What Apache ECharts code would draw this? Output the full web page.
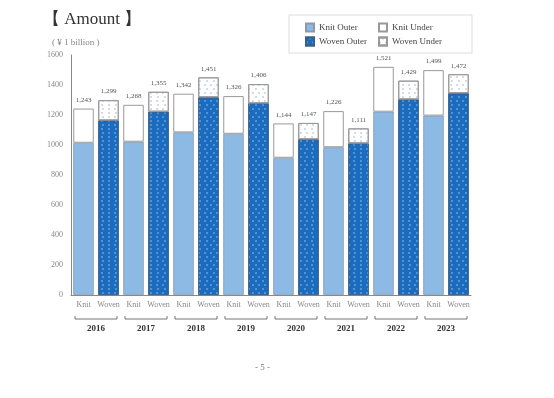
<!DOCTYPE html>
<html>
<head>
<meta charset="utf-8">
<script src="https://cdn.jsdelivr.net/npm/echarts@6/dist/echarts.min.js"></script>
<style>
  html, body { margin: 0; padding: 0; background: #fff; }
  #chart { width: 554px; height: 398px; }
</style>
</head>
<body>
<div id="chart"></div>
<script>
// values (¥ 1 billion)
var years = ['2016', '2017', '2018', '2019', '2020', '2021', '2022', '2023'];
var kinds = ['Knit', 'Woven'];
var knitOuter  = [1015, 1022, 1084, 1075,  915,  985, 1222, 1196];
var knitTotal  = [1243, 1268, 1342, 1326, 1144, 1226, 1521, 1499];
var wovenOuter = [1164, 1222, 1318, 1278, 1038, 1011, 1304, 1345];
var wovenTotal = [1299, 1355, 1451, 1406, 1147, 1111, 1429, 1472];
var yTicks = [0, 200, 400, 600, 800, 1000, 1200, 1400, 1600];

var serif = '"Liberation Serif", "DejaVu Serif", serif';

// 16 bars: Knit, Woven for every year
var cats = [];
years.forEach(function (y) { kinds.forEach(function (k) { cats.push(k); }); });

function spread(arr, slot) {
	var out = [];
	arr.forEach(function (v) {
		out.push(slot === 0 ? v : null);
		out.push(slot === 1 ? v : null);
	});
	return out;
}
function diff(tot, part) {
	return tot.map(function (v, i) { return v - part[i]; });
}
var totals = [];
knitTotal.forEach(function (v, i) { totals.push(v); totals.push(wovenTotal[i]); });

var dots = function (c) {
	return { symbol: 'circle', symbolSize: 1, color: c,
	         dashArrayX: [[1.2, 3.3], [0, 2.2, 1.2, 1.1]], dashArrayY: [1.2, 1.8] };
};

var totalLabel = {
	show: true,
	position: 'top',
	distance: 5,
	fontFamily: serif,
	fontSize: 7,
	color: '#555',
	formatter: function (p) {
		return totals[p.dataIndex].toLocaleString('en-US');
	}
};

var myChart = echarts.init(document.getElementById('chart'));

var option = {
	backgroundColor: '#fff',
	animation: false,
	title: [
		{ text: '【 Amount 】', left: 38, top: 6,
		  textStyle: { fontFamily: serif, fontSize: 17, fontWeight: 'normal', color: '#333' } },
		{ text: '( ¥ 1 billion )', left: 47, top: 33,
		  textStyle: { fontFamily: serif, fontSize: 9, fontWeight: 'normal', color: '#888' } },
		{ text: '- 5 -', left: 250, top: 358,
		  textStyle: { fontFamily: serif, fontSize: 9, fontWeight: 'normal', color: '#777' } }
	],
	legend: {
		data: ['Knit Outer', 'Knit Under', 'Woven Outer', 'Woven Under'],
		left: 289, top: 15, width: 150,
		padding: [7, 24, 6, 16],
		itemGap: 3,
		itemWidth: 8, itemHeight: 8,
		icon: 'rect',
		borderColor: '#ddd', borderWidth: 1,
		textStyle: { fontFamily: serif, fontSize: 9, color: '#444', width: 56, lineHeight: 11 }
	},
	grid: { left: 71, right: 83, top: 55, bottom: 103 },
	xAxis: [
		{
			type: 'category', data: cats,
			axisLine: { lineStyle: { color: '#888' } },
			axisTick: { show: false },
			axisLabel: { fontFamily: serif, fontSize: 8, color: '#888', margin: 6, interval: 0 }
		},
		{
			type: 'category', data: years, position: 'bottom',
			axisLine: { show: false }, axisTick: { show: false },
			axisLabel: { fontFamily: serif, fontSize: 9, fontWeight: 'bold', color: '#333', margin: 29 }
		}
	],
	yAxis: {
		type: 'value', min: 0, max: 1600, interval: 200,
		axisLine: { show: true, lineStyle: { color: '#888' } },
		axisTick: { show: false },
		splitLine: { show: false },
		axisLabel: {
			fontFamily: serif, fontSize: 8, color: '#888', margin: 8,
			formatter: function (v) { return yTicks.indexOf(v) >= 0 ? String(v) : ''; }
		}
	},
	series: [
		{
			name: 'Knit Outer', type: 'bar', stack: 'a', barWidth: '82%',
			data: spread(knitOuter, 0),
			itemStyle: { color: '#8dbae4', borderColor: '#8a9aaa', borderWidth: 0.8 }
		},
		{
			name: 'Woven Outer', type: 'bar', stack: 'a',
			data: spread(wovenOuter, 1),
			itemStyle: { color: '#1a6cc0', borderColor: '#3d5f85', borderWidth: 0.8,
			             decal: dots('rgba(255,255,255,0.35)') }
		},
		{
			name: 'Knit Under', type: 'bar', stack: 'a',
			data: spread(diff(knitTotal, knitOuter), 0),
			itemStyle: { color: '#fff', borderColor: '#999', borderWidth: 1 },
			label: totalLabel
		},
		{
			name: 'Woven Under', type: 'bar', stack: 'a',
			data: spread(diff(wovenTotal, wovenOuter), 1),
			itemStyle: { color: '#fff', borderColor: '#999', borderWidth: 1,
			             decal: dots('rgba(140,165,200,0.5)') },
			label: totalLabel
		},
		{
			// year brackets under each Knit / Woven pair
			type: 'custom', xAxisIndex: 1, silent: true, clip: false,
			data: years.map(function (y, i) { return [i]; }),
			encode: { x: 0 },
			renderItem: function (params, api) {
				var p = api.coord([api.value(0), 0]);
				var half = api.size([1, 0])[0] * 0.42;
				var y = p[1] + 24;
				return {
					type: 'polyline',
					shape: { points: [[p[0] - half, y - 3], [p[0] - half, y], [p[0] + half, y], [p[0] + half, y - 3]] },
					style: { stroke: '#777', lineWidth: 1, fill: null }
				};
			}
		}
	]
};

myChart.setOption(option);
</script>
</body>
</html>
